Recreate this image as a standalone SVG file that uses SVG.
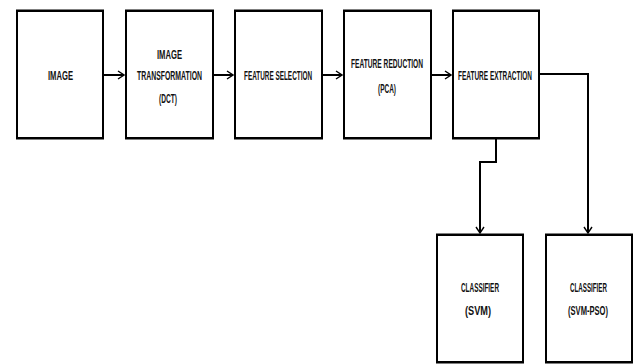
<svg xmlns="http://www.w3.org/2000/svg" width="638" height="364" viewBox="0 0 638 364">
<style>
.box{fill:#fff;stroke:#000;stroke-width:2}
.edge{fill:#000}
.t{font-family:"Liberation Sans",Arial,sans-serif;font-weight:bold;font-size:12.5px;fill:#111;text-anchor:start}
.c{fill:none;stroke:#000;stroke-width:2}
</style>
<defs>
<marker id="ah" markerWidth="8" markerHeight="10" refX="7" refY="5" orient="auto" markerUnits="userSpaceOnUse">
<path d="M1,1 L7,5 L1,9" fill="none" stroke="#000" stroke-width="1.4"/>
</marker>
</defs>
<rect width="638" height="364" fill="#fff"/>
<g id="connectors">
<path class="c" d="M103,75 H124" marker-end="url(#ah)"/>
<path class="c" d="M213,75 H233" marker-end="url(#ah)"/>
<path class="c" d="M322,75 H342" marker-end="url(#ah)"/>
<path class="c" d="M431,75 H451" marker-end="url(#ah)"/>
<path class="c" d="M539,74 H588 V233" marker-end="url(#ah)"/>
<path class="c" d="M496,138 V162 H480 V233" marker-end="url(#ah)"/>
</g>
<g id="n1">
<rect class="box" x="17" y="11" width="86" height="127"/>
<path class="edge" d="M16,9.5 H104 V12 H16Z M16,137 H104 V139.5 H16Z"/>
<text class="t" x="48" y="80" textLength="25" lengthAdjust="spacingAndGlyphs">IMAGE</text>
</g>
<g id="n2">
<rect class="box" x="126" y="11" width="87" height="127"/>
<path class="edge" d="M125,9.5 H214 V12 H125Z M125,137 H214 V139.5 H125Z"/>
<text class="t" x="157" y="59" textLength="25" lengthAdjust="spacingAndGlyphs">IMAGE</text>
<text class="t" x="137" y="80" textLength="65" lengthAdjust="spacingAndGlyphs">TRANSFORMATION</text>
<text class="t" x="159" y="103" textLength="18" lengthAdjust="spacingAndGlyphs">(DCT)</text>
</g>
<g id="n3">
<rect class="box" x="235" y="11" width="87" height="127"/>
<path class="edge" d="M234,9.5 H323 V12 H234Z M234,137 H323 V139.5 H234Z"/>
<text class="t" x="244" y="80" textLength="68" lengthAdjust="spacingAndGlyphs">FEATURE SELECTION</text>
</g>
<g id="n4">
<rect class="box" x="344" y="11" width="87" height="127"/>
<path class="edge" d="M343,9.5 H432 V12 H343Z M343,137 H432 V139.5 H343Z"/>
<text class="t" x="351" y="68" textLength="72" lengthAdjust="spacingAndGlyphs">FEATURE REDUCTION</text>
<text class="t" x="378" y="93" textLength="18" lengthAdjust="spacingAndGlyphs">(PCA)</text>
</g>
<g id="n5">
<rect class="box" x="453" y="11" width="86" height="127"/>
<path class="edge" d="M452,9.5 H540 V12 H452Z M452,137 H540 V139.5 H452Z"/>
<text class="t" x="458" y="80" textLength="74" lengthAdjust="spacingAndGlyphs">FEATURE EXTRACTION</text>
</g>
<g id="n6">
<rect class="box" x="437" y="235" width="86" height="127"/>
<path class="edge" d="M436,233.5 H524 V236 H436Z M436,361 H524 V363.5 H436Z"/>
<text class="t" x="461" y="292" textLength="38" lengthAdjust="spacingAndGlyphs">CLASSIFIER</text>
<text class="t" x="465" y="315" textLength="26" lengthAdjust="spacingAndGlyphs">(SVM)</text>
</g>
<g id="n7">
<rect class="box" x="546" y="235" width="86" height="127"/>
<path class="edge" d="M545,233.5 H633 V236 H545Z M545,361 H633 V363.5 H545Z"/>
<text class="t" x="570" y="292" textLength="37" lengthAdjust="spacingAndGlyphs">CLASSIFIER</text>
<text class="t" x="568" y="315" textLength="40" lengthAdjust="spacingAndGlyphs">(SVM-PSO)</text>
</g>
</svg>
